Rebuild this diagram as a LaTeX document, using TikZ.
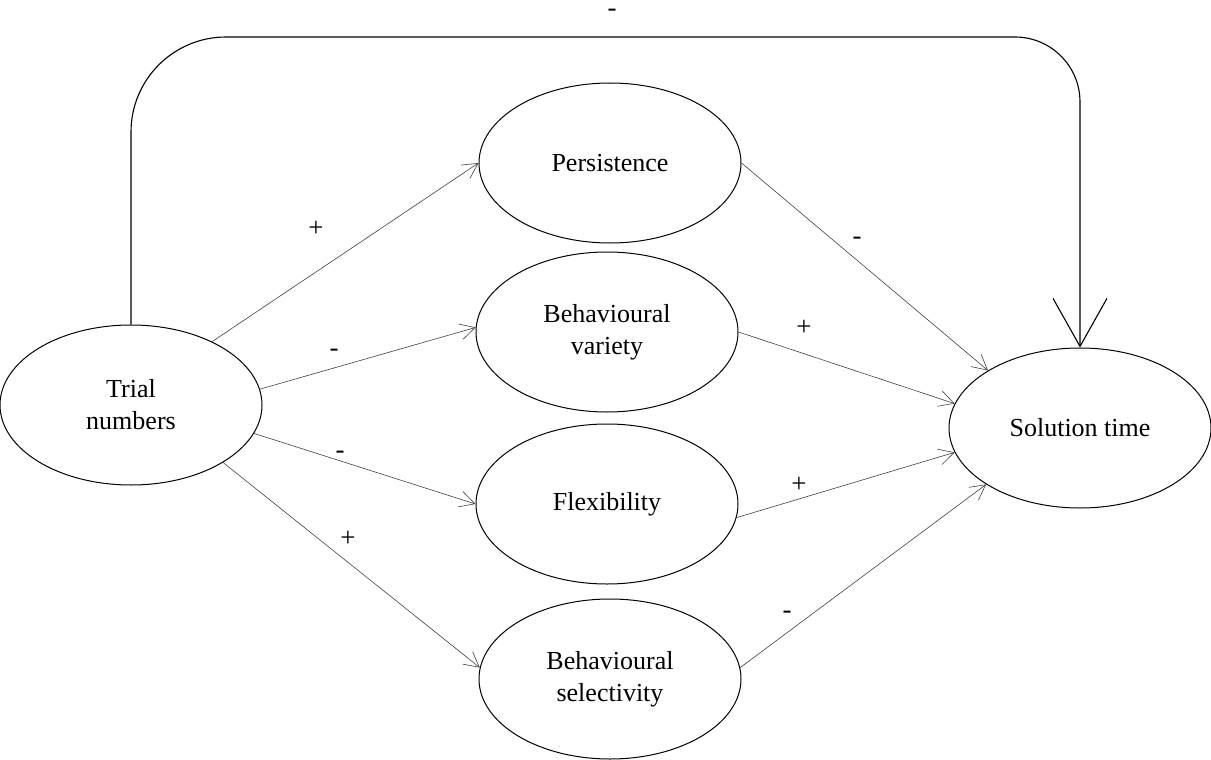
\documentclass[tikz,border=0pt]{standalone}
\usepackage{fontspec}
\setmainfont{Liberation Serif}
\usetikzlibrary{shapes.geometric,arrows.meta}

\begin{document}
\begin{tikzpicture}[x=1pt,y=-1pt,
  var/.style={ellipse,draw,line width=1pt,inner sep=0pt,minimum width=262pt,
    minimum height=160pt,align=center,font=\fontsize{26}{32}\selectfont},
  link/.style={black!75,line width=.6pt,-{Straight Barb[length=15pt,width=16pt]}},
  sign/.style={anchor=base,inner sep=0pt,font=\fontsize{27}{32}\selectfont}]
  \useasboundingbox (0,0) rectangle (1211,760);

  \node[var] (trial)   at (131,405) {Trial\\numbers};
  \node[var] (pers)    at (610,163) {Persistence};
  \node[var] (variety) at (607,332) {Behavioural\\variety};
  \node[var] (flex)    at (607,504) {Flexibility};
  \node[var] (select)  at (610,679) {Behavioural\\selectivity};
  \node[var] (sol)     at (1080,428) {Solution time};

  % direct path over the top
  \coordinate (ridge) at (612,37);
  \draw[line width=1.1pt,-{Straight Barb[length=48pt,width=54pt]}]
    (trial.north) [rounded corners=95pt] |- (ridge) [rounded corners=65pt] -| (sol.north);
  \node[sign] (s0) at (612,17) {-};

  % trial numbers to the behaviours
  \draw[link] (trial.38)  -- (pers.west);
  \draw[link] (trial.7)   -- (variety.178);
  \draw[link] (trial.347) -- (flex.west);
  \draw[link] (trial.328) -- (select.175);
  \node[sign] (s1) at (316,236) {+};
  \node[sign] (s2) at (334,356) {-};
  \node[sign] (s3) at (340,458) {-};
  \node[sign] (s4) at (348,546) {+};

  % behaviours to solution time
  \draw[link] (pers.east)   -- (sol.148);
  \draw[link] (variety.east) -- (sol.169);
  \draw[link] (flex.354)    -- (sol.191);
  \draw[link] (select.5)    -- (sol.211);
  \node[sign] (s5) at (857,244) {-};
  \node[sign] (s6) at (804,335) {+};
  \node[sign] (s7) at (799,492) {+};
  \node[sign] (s8) at (787,618) {-};
\end{tikzpicture}
\end{document}
